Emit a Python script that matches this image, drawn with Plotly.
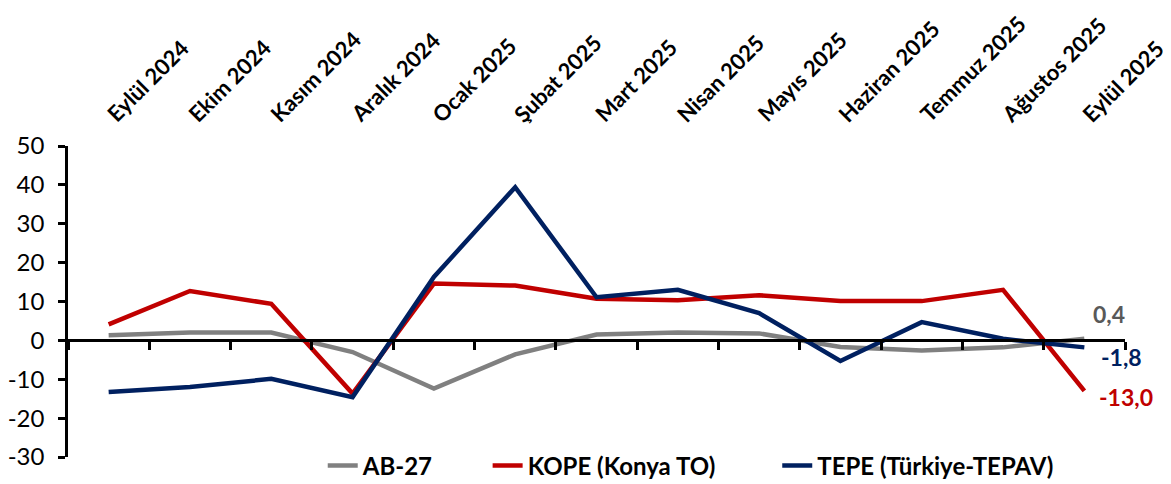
import plotly.graph_objects as go

months = ["Eylül 2024", "Ekim 2024", "Kasım 2024", "Aralık 2024", "Ocak 2025",
          "Şubat 2025", "Mart 2025", "Nisan 2025", "Mayıs 2025", "Haziran 2025",
          "Temmuz 2025", "Ağustos 2025", "Eylül 2025"]
ab27 = [1.3, 2.0, 2.0, -3.0, -12.4, -3.6, 1.5, 2.0, 1.8, -1.7, -2.6, -1.8, 0.4]
kope = [4.1, 12.7, 9.4, -13.7, 14.6, 14.1, 10.7, 10.3, 11.6, 10.1, 10.1, 13.0, -13.0]
tepe = [-13.3, -12.0, -9.9, -14.6, 16.3, 39.4, 11.1, 13.0, 7.0, -5.3, 4.7, 0.4, -1.8]
y_ticks = [50, 40, 30, 20, 10, 0, -10, -20, -30]
y_ticktext = [str(v) for v in y_ticks]

GRAY = "#808080"
RED = "#C00000"
NAVY = "#002060"
FONT = "Lato"

fig = go.Figure()
series = [("AB-27", ab27, GRAY, "legend", 0.241),
          ("KOPE (Konya TO)", kope, RED, "legend2", 0.397),
          ("TEPE (Türkiye-TEPAV)", tepe, NAVY, "legend3", 0.671)]
for name, vals, col, lg, _ in series:
    fig.add_trace(go.Scatter(x=months, y=vals, name=name, mode="lines", legend=lg,
                             line=dict(color=col, width=4.5)))

# end-of-series value labels
labels = [(ab27[-1], "#595959", 25, 25), (tepe[-1], NAVY, 37, -10),
          (kope[-1], RED, 42, -6)]
for val, tcol, xs, ys in labels:
    fig.add_annotation(x=months[-1], y=val, text=f"{val:.1f}".replace(".", ","),
                       showarrow=False, xshift=xs, yshift=ys,
                       font=dict(family=FONT, size=23, color=tcol, weight="bold"))

# month labels along the top, rotated
for m in months:
    fig.add_annotation(x=m, y=1, xref="x", yref="paper", text=m, showarrow=False,
                       textangle=-45, xanchor="left", yanchor="bottom",
                       xshift=-10, yshift=16,
                       font=dict(family=FONT, size=22, color="black", weight="bold"))

legend_font = dict(family=FONT, size=24, color="black", weight="bold")
legends = {}
for i, (_, _, _, lg, lx) in enumerate(series):
    legends[lg] = dict(orientation="h", x=lx, xanchor="left", y=-0.029,
                       yanchor="middle", font=legend_font, bgcolor="rgba(0,0,0,0)")

fig.update_layout(
    width=1163, height=476,
    margin=dict(l=60, r=46, t=138, b=27, autoexpand=False),
    plot_bgcolor="white", paper_bgcolor="white",
    font=dict(family=FONT, color="black"),
    showlegend=True,
    xaxis=dict(type="category", range=[-0.5, len(months) - 0.5],
               showticklabels=False, showline=False,
               showgrid=False, zeroline=False, ticks="", automargin=False),
    xaxis2=dict(type="category", matches="x", overlaying="x", anchor="free",
                position=0.375, showline=True, linecolor="black", linewidth=2.5,
                ticks="outside", tickson="boundaries", ticklen=8, tickwidth=2.5,
                tickcolor="black", showticklabels=False, showgrid=False,
                zeroline=False, automargin=False),
    yaxis=dict(range=[-30, 50], tickvals=y_ticks, ticktext=y_ticktext,
               showline=True, linecolor="black",
               linewidth=2.5, ticks="outside", ticklen=7, tickwidth=2.5,
               tickcolor="black", showgrid=False, zeroline=False, automargin=False,
               ticklabelstandoff=9,
               tickfont=dict(family=FONT, size=24, color="black")),
    **legends,
)
fig.add_trace(go.Scatter(x=months, y=[None] * len(months), xaxis="x2",
                         showlegend=False, hoverinfo="skip"))

fig.write_html("out.html")
